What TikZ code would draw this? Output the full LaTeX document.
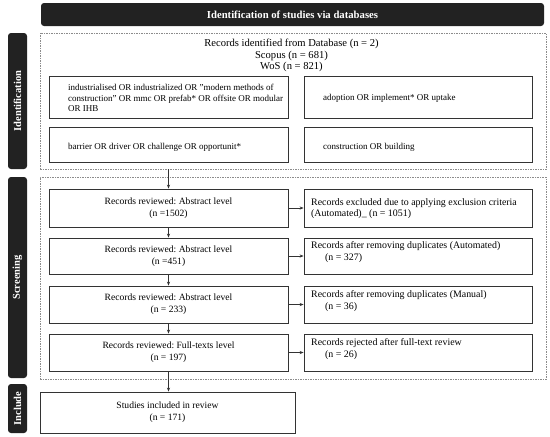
\documentclass[tikz,border=0pt]{standalone}
\usepackage{fontspec}
\setmainfont{Liberation Serif}
\usetikzlibrary{arrows.meta}
\frenchspacing
\definecolor{tabblack}{HTML}{222222}
\definecolor{boxline}{HTML}{333333}
\definecolor{dashline}{HTML}{8C8C8C}
\tikzset{
  tab/.style={fill=tabblack, draw=none, rounded corners=3pt},
  tabtext/.style={text=white, font=\fontsize{10.5}{12}\selectfont\bfseries, rotate=90},
  dashbox/.style={draw=dashline, line width=0.6pt, dash pattern=on 1.5pt off 1pt, inner sep=0pt},
  box/.style={draw=boxline, line width=0.8pt, inner sep=0pt, align=center,
     font=\fontsize{9.6}{12}\selectfont},
  termtext/.style={anchor=west, inner sep=0pt, align=left, font=\fontsize{9}{10.2}\selectfont},
  righttext/.style={anchor=west, inner sep=0pt, align=left, font=\fontsize{9.9}{11.5}\selectfont},
  arr/.style={draw=boxline, line width=0.7pt, -{Stealth[length=4pt,width=3.2pt]}},
}
\begin{document}
\begin{tikzpicture}[x=1pt,y=-1pt]
\useasboundingbox (0,0) rectangle (550,437);
% header
\node[tab, minimum width=503pt, minimum height=23pt, inner sep=0pt] (header) at (292.5,14.5)
  {\textcolor{white}{\fontsize{10.7}{12}\selectfont\bfseries Identification of studies via databases}};
% side tabs
\node[tab, minimum width=19pt, minimum height=136pt, inner sep=0pt] (tabid) at (17.5,101) {};
\node[tabtext] (tabidt) at (tabid.center) {Identification};
\node[tab, minimum width=19pt, minimum height=201pt, inner sep=0pt] (tabsc) at (17.5,277.5) {};
\node[tabtext] (tabsct) at (tabsc.center) {Screening};
\node[tab, minimum width=19pt, minimum height=49pt, inner sep=0pt] (tabin) at (17.5,408.5) {};
\node[tabtext] (tabint) at (tabin.center) {Include};
% dashed boxes
\node[dashbox, minimum width=506pt, minimum height=136pt] (idbox) at (293,101) {};
\node[dashbox, minimum width=506pt, minimum height=202pt] (scbox) at (293,278) {};
% identification text
\node[align=center, inner sep=0pt, font=\fontsize{10.6}{11.5}\selectfont] (dbtext) at (291.5,55.5)
  {Records identified from Database (n = 2)\\Scopus (n = 681)\\WoS (n = 821)};
% search term boxes
\node[box, minimum width=239pt, minimum height=42pt] (t1) at (168.5,97) {};
\node[termtext] (t1t) at (68,98) {industrialised OR industrialized OR "modern methods of\\construction" OR mmc OR prefab* OR offsite OR modular\\OR IHB};
\node[box, minimum width=228pt, minimum height=42pt] (t2) at (418,97) {};
\node[termtext] (t2t) at (323,98) {adoption OR implement* OR uptake};
\node[box, minimum width=239pt, minimum height=35pt] (t3) at (168.5,144.5) {};
\node[termtext] (t3t) at (68,147) {barrier OR driver OR challenge OR opportunit*};
\node[box, minimum width=228pt, minimum height=35pt] (t4) at (418,144.5) {};
\node[termtext] (t4t) at (323,147) {construction OR building};
% screening left boxes
\node[box, minimum width=239pt, minimum height=38pt] (A) at (168.5,208) {Records reviewed: Abstract level\\(n =1502)};
\node[box, minimum width=239pt, minimum height=36pt] (B) at (168.5,256) {Records reviewed: Abstract level\\(n =451)};
\node[box, minimum width=239pt, minimum height=37pt] (C) at (168.5,304.5) {Records reviewed: Abstract level\\(n = 233)};
\node[box, minimum width=239pt, minimum height=37pt] (D) at (168.5,352.5) {Records reviewed: Full-texts level\\(n = 197)};
% screening right boxes
\node[box, minimum width=228pt, minimum height=38pt] (Ar) at (418,208) {};
\node[righttext] (Art) at (311,208.5) {Records excluded due to applying exclusion criteria\\(Automated)\_ (n = 1051)};
\node[box, minimum width=228pt, minimum height=36pt] (Br) at (418,256) {};
\node[righttext] (Brt) at (311,252) {Records after removing duplicates (Automated)\\\hspace*{14pt}(n = 327)};
\node[box, minimum width=228pt, minimum height=37pt] (Cr) at (418,304.5) {};
\node[righttext] (Crt) at (311,301) {Records after removing duplicates (Manual)\\\hspace*{14pt}(n = 36)};
\node[box, minimum width=228pt, minimum height=37pt] (Dr) at (418,352.5) {};
\node[righttext] (Drt) at (311,349) {Records rejected after full-text review\\\hspace*{14pt}(n = 26)};
% include
\node[box, minimum width=255pt, minimum height=41pt] (inc) at (167.5,412.5) {Studies included in review\\(n = 171)};
% connectors
\draw[arr] (A.north |- idbox.south) -- (A.north);
\draw[arr] (A.south) -- (B.north);
\draw[arr] (B.south) -- (C.north);
\draw[arr] (C.south) -- (D.north);
\draw[arr] (D.south) -- (D.south |- inc.north);
\draw[arr] (A.east) -- (Ar.west);
\draw[arr] (B.east) -- (Br.west);
\draw[arr] (C.east) -- (Cr.west);
\draw[arr] (D.east) -- (Dr.west);
\end{tikzpicture}
\end{document}
